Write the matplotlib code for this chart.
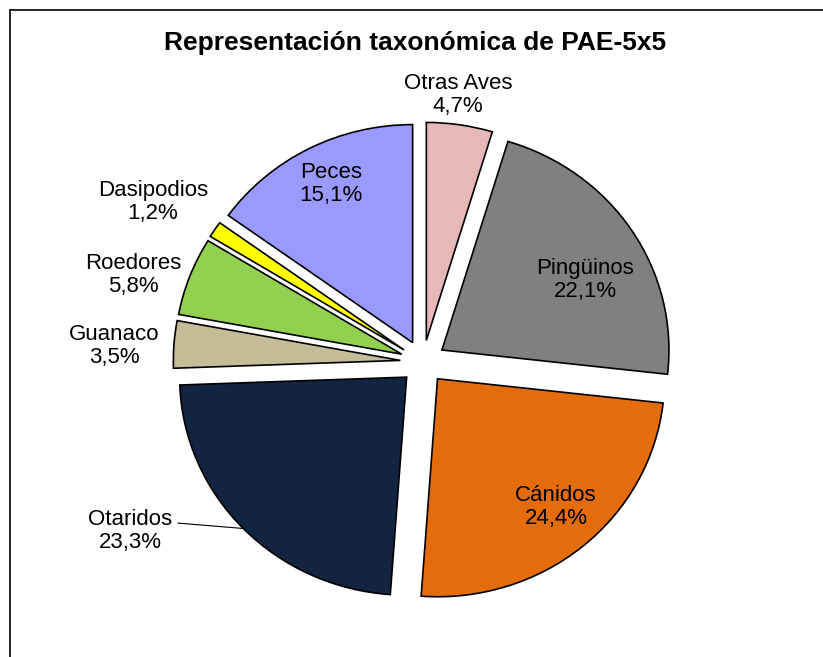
import numpy as np
import matplotlib
matplotlib.use("Agg")
import matplotlib.pyplot as plt
from matplotlib.lines import Line2D

plt.rcParams['font.family'] = ['Liberation Sans', 'DejaVu Sans']

categorias = ['Otras Aves', 'Pingüinos', 'Cánidos', 'Otaridos',
              'Guanaco', 'Roedores', 'Dasipodios', 'Peces']
valores = [4.7, 22.1, 24.4, 23.3, 3.5, 5.8, 1.2, 15.1]
colores = ['#E6B9B8', '#808080', '#E46C0A', '#12243F',
           '#C4BD97', '#92D050', '#FFFF00', '#9999FF']
titulo = 'Representación taxonómica de PAE-5x5'

# label centres (data units, radius = 1)
pos_etiquetas = [(0.154, 1.225), (0.714, 0.376), (0.586, -0.665), (-1.291, -0.775),
                 (-1.361, 0.073), (-1.278, 0.399), (-1.189, 0.734), (-0.405, 0.817)]

W, H = 823, 657
cx, cy = 423, 362      # pie centre in pixels (from top-left)
rx, ry = 227, 218      # pixel radius horizontally / vertically

fig = plt.figure(figsize=(W / 100, H / 100), dpi=100, facecolor='white')
ax = fig.add_axes([0, 0, 1, 1])

explode = [0.1] * len(valores)
wedges, _ = ax.pie(valores, colors=colores, explode=explode, startangle=90,
                   counterclock=False,
                   wedgeprops=dict(edgecolor='black', linewidth=1.2))
ax.set_aspect('auto')
ax.set_xlim(-cx / rx, (W - cx) / rx)
ax.set_ylim(-(H - cy) / ry, cy / ry)
ax.axis('off')

for nombre, v, (x, y) in zip(categorias, valores, pos_etiquetas):
    txt = "%s\n%s%%" % (nombre, ("%.1f" % v).replace('.', ','))
    ax.text(x, y, txt, ha='center', va='center', fontsize=16,
            color='black', linespacing=1.15)

# leader line for Otaridos
w = wedges[3]
mid = np.deg2rad((w.theta1 + w.theta2) / 2)
ex = 0.1 * np.cos(mid) + np.cos(mid)
ey = 0.1 * np.sin(mid) + np.sin(mid)
ax.plot([-1.079, ex], [-0.739, ey], color='black', linewidth=0.8)

fig.text(415 / W, 1 - 43 / H, titulo, ha='center', va='center',
         fontsize=19, fontweight='bold')

# chart area frame (top and left edges visible)
fig.add_artist(Line2D([10 / W, 1], [1 - 10 / H, 1 - 10 / H], color='black',
                      linewidth=1.2, transform=fig.transFigure))
fig.add_artist(Line2D([10 / W, 10 / W], [0, 1 - 10 / H], color='black',
                      linewidth=1.2, transform=fig.transFigure))

fig.savefig('out.png', dpi=100, facecolor='white')
